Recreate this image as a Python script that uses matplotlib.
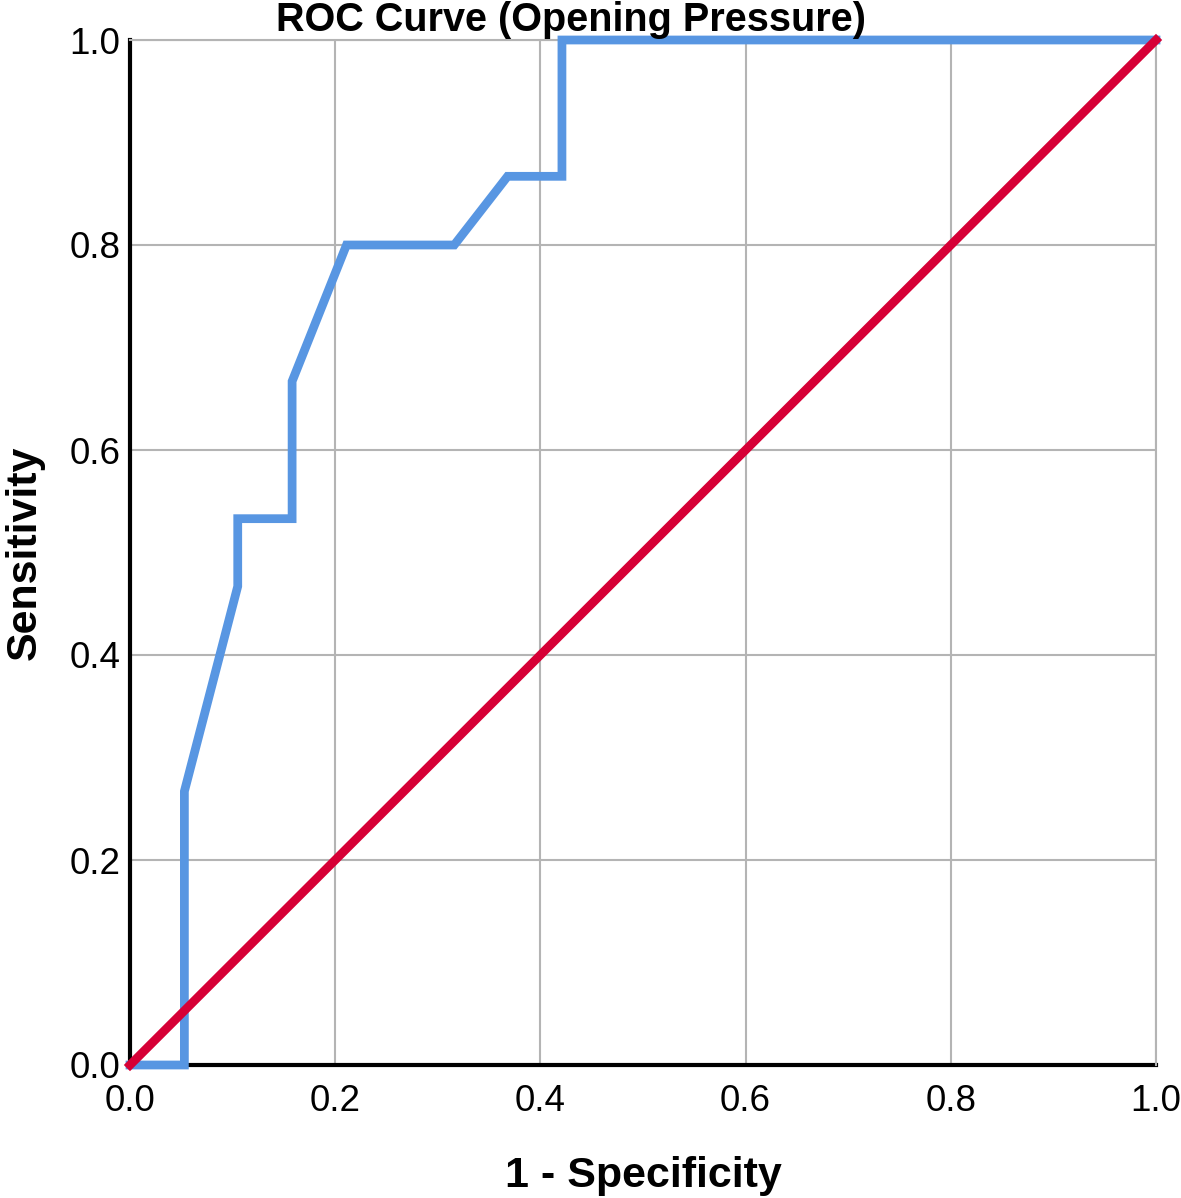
import matplotlib.pyplot as plt

plt.rcParams['font.family'] = ['Liberation Sans', 'DejaVu Sans']

# ROC points (1 - specificity, sensitivity)
fpr = [0.0, 0.053, 0.053, 0.105, 0.105, 0.158, 0.158, 0.211, 0.316, 0.368, 0.421, 0.421, 1.0]
tpr = [0.0, 0.0, 0.267, 0.467, 0.533, 0.533, 0.667, 0.800, 0.800, 0.867, 0.867, 1.0, 1.0]
ref_x = [0.0, 1.0]
ref_y = [0.0, 1.0]
ticks = [0.0, 0.2, 0.4, 0.6, 0.8, 1.0]

fig = plt.figure(figsize=(11.81, 11.98), dpi=100)
ax = fig.add_axes([130 / 1181, 1 - 1065 / 1198, 1026 / 1181, 1025 / 1198])

ax.plot(fpr, tpr, color='#5896e2', lw=6.3, solid_joinstyle='miter', zorder=3, clip_on=False)
ax.plot(ref_x, ref_y, color='#d60036', lw=6.3, zorder=4, clip_on=False)

ax.set_xlim(0, 1)
ax.set_ylim(0, 1)
ax.set_xticks(ticks)
ax.set_yticks(ticks)
ax.set_xticklabels([f'{t:.1f}' for t in ticks])
ax.set_yticklabels([f'{t:.1f}' for t in ticks])
ax.tick_params(length=0, labelsize=26.5)
ax.tick_params(axis='y', pad=7)
ax.tick_params(axis='x', pad=14)
for lbl in ax.get_yticklabels():
    lbl.set_va('center_baseline')
ax.grid(True, color='#b4b4b4', lw=1.5)
ax.set_axisbelow(True)

for s in ['top', 'right']:
    ax.spines[s].set_color('#b4b4b4')
    ax.spines[s].set_linewidth(1.5)
for s in ['left', 'bottom']:
    ax.spines[s].set_color('black')
    ax.spines[s].set_linewidth(3)
    ax.spines[s].set_zorder(2)

ax.set_xlabel('1 - Specificity', fontsize=31, fontweight='bold', labelpad=26)
ax.set_ylabel('Sensitivity', fontsize=31, fontweight='bold', labelpad=18)

fig.text(571 / 1181, 1 - 31 / 1198, 'ROC Curve (Opening Pressure)',
         fontsize=28.5, fontweight='bold', ha='center', va='baseline')

fig.savefig('out.png', dpi=100)
